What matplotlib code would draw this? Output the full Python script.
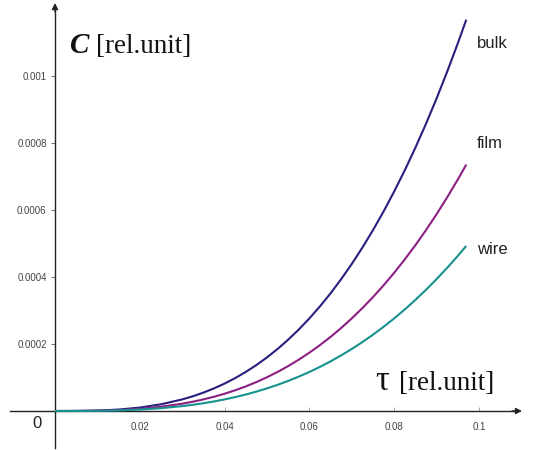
import matplotlib
matplotlib.use("Agg")
import matplotlib.pyplot as plt

# ---- data ----
tau = [0.0, 0.005, 0.01, 0.015, 0.02, 0.025, 0.03, 0.0325, 0.035, 0.0375, 0.04,
       0.0425, 0.045, 0.0475, 0.05, 0.0525, 0.055, 0.0575, 0.06, 0.0625, 0.065,
       0.0675, 0.07, 0.0725, 0.075, 0.0775, 0.08, 0.0825, 0.085, 0.0875, 0.09,
       0.0925, 0.095, 0.097]
bulk = [0.0, 0.0000002, 0.0000013, 0.0000043, 0.0000102, 0.0000200, 0.0000346,
        0.0000439, 0.0000549, 0.0000675, 0.0000819, 0.0000983, 0.0001166,
        0.0001372, 0.0001600, 0.0001852, 0.0002130, 0.0002433, 0.0002765,
        0.0003125, 0.0003515, 0.0003937, 0.0004390, 0.0004878, 0.0005400,
        0.0005958, 0.0006554, 0.0007187, 0.0007861, 0.0008575, 0.0009331,
        0.0010131, 0.0010974, 0.0011682]
film = [0.0, 0.0000001, 0.0000008, 0.0000027, 0.0000064, 0.0000126, 0.0000218,
        0.0000277, 0.0000346, 0.0000425, 0.0000516, 0.0000619, 0.0000734,
        0.0000864, 0.0001008, 0.0001166, 0.0001341, 0.0001532, 0.0001741,
        0.0001968, 0.0002213, 0.0002479, 0.0002765, 0.0003072, 0.0003400,
        0.0003752, 0.0004127, 0.0004526, 0.0004950, 0.0005400, 0.0005876,
        0.0006379, 0.0006910, 0.0007356]
wire = [0.0, 0.0000001, 0.0000005, 0.0000018, 0.0000043, 0.0000084, 0.0000146,
        0.0000185, 0.0000232, 0.0000285, 0.0000346, 0.0000415, 0.0000492,
        0.0000579, 0.0000675, 0.0000781, 0.0000898, 0.0001027, 0.0001166,
        0.0001318, 0.0001483, 0.0001661, 0.0001852, 0.0002058, 0.0002278,
        0.0002514, 0.0002765, 0.0003032, 0.0003316, 0.0003618, 0.0003937,
        0.0004274, 0.0004630, 0.0004928]
series_names = ["bulk", "film", "wire"]
series_colors = ["#27207e", "#8c1f82", "#16918d"]
x_ticks = [0.02, 0.04, 0.06, 0.08, 0.1]
x_tick_labels = ["0.02", "0.04", "0.06", "0.08", "0.1"]
y_ticks = [0.0002, 0.0004, 0.0006, 0.0008, 0.001]
y_tick_labels = ["0.0002", "0.0004", "0.0006", "0.0008", "0.001"]

W, H = 533, 450
fig = plt.figure(figsize=(W / 100, H / 100), dpi=100)
ax = fig.add_axes([0, 0, 1, 1])

# pixel mapping: tau 0 -> x=55px, 0.1 -> 479px ; C 0 -> y=411px (from top), 0.001 -> 76px
px_per_x = 4240.0
px_per_y = 335000.0
x0_px, y0_px = 55.0, 411.0
ax.set_xlim(-x0_px / px_per_x, (W - x0_px) / px_per_x)
ax.set_ylim(-(H - y0_px) / px_per_y, y0_px / px_per_y)

for name, vals, col in zip(series_names, [bulk, film, wire], series_colors):
    ax.plot(tau, vals, color=col, lw=1.5, solid_capstyle="butt",
            solid_joinstyle="round", zorder=3)

# axes (spines through zero)
for s in ["top", "right"]:
    ax.spines[s].set_visible(False)
ax.spines["left"].set_position(("data", 0))
ax.spines["bottom"].set_position(("data", 0))
ax.spines["left"].set_bounds(-(448 - y0_px) / px_per_y, (y0_px - 10) / px_per_y)
ax.spines["bottom"].set_bounds((10 - x0_px) / px_per_x, (514 - x0_px) / px_per_x)
for s in ["left", "bottom"]:
    ax.spines[s].set_color("#222222")
    ax.spines[s].set_linewidth(1.0)

# arrow heads
ax.annotate("", xy=(0, (y0_px - 3) / px_per_y), xytext=(0, (y0_px - 12) / px_per_y),
            arrowprops=dict(arrowstyle="-|>", color="#222222", lw=1.0,
                            mutation_scale=9, shrinkA=0, shrinkB=0))
ax.annotate("", xy=((522 - x0_px) / px_per_x, 0), xytext=((512 - x0_px) / px_per_x, 0),
            arrowprops=dict(arrowstyle="-|>", color="#222222", lw=1.0,
                            mutation_scale=9, shrinkA=0, shrinkB=0))

ax.set_xticks(x_ticks)
ax.set_xticklabels(x_tick_labels)
ax.set_yticks(y_ticks)
ax.set_yticklabels(y_tick_labels)
ax.tick_params(axis="x", direction="in", length=3, width=0.6, color="#999999",
               labelsize=7, labelcolor="#444444", pad=8)
ax.tick_params(axis="y", direction="out", length=3, width=0.6, color="#555555",
               labelsize=7, labelcolor="#444444", pad=3)
for lab in ax.get_xticklabels() + ax.get_yticklabels():
    lab.set_family("Liberation Sans")

# "0" origin label
ax.text(-18 / px_per_x, -13 / px_per_y, "0", fontsize=12, family="Liberation Sans",
        ha="center", va="center", color="#222222")

# axis titles
ax.text((70 - x0_px) / px_per_x, (y0_px - 53) / px_per_y, "C", fontsize=21,
        family="Liberation Serif", fontweight="bold", fontstyle="italic",
        ha="left", va="baseline", color="#111111")
ax.text((96 - x0_px) / px_per_x, (y0_px - 53) / px_per_y, "[rel.unit]", fontsize=19.5,
        family="Liberation Serif", ha="left", va="baseline", color="#111111")
ax.text((375 - x0_px) / px_per_x, (y0_px - 390) / px_per_y, "\u03c4", fontsize=25,
        family="Liberation Serif", ha="left", va="baseline", color="#111111")
ax.text((399 - x0_px) / px_per_x, (y0_px - 390) / px_per_y, "[rel.unit]", fontsize=19.5,
        family="Liberation Serif", ha="left", va="baseline", color="#111111")

# series labels
label_y_px = [44, 143, 249]
for name, ypx in zip(series_names, label_y_px):
    ax.text((477 - x0_px) / px_per_x, (y0_px - ypx) / px_per_y, name, fontsize=12,
            family="Liberation Sans", ha="left", va="center", color="#222222")

fig.savefig("out.png", dpi=100)
